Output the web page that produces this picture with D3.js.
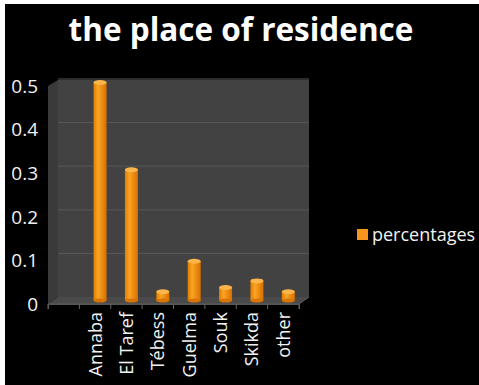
<!DOCTYPE html>
<html>
<head>
<meta charset="utf-8">
<script src="https://cdn.jsdelivr.net/npm/d3@7"></script>
<style>
  body { margin: 0; background: #fff; }
  svg { display: block; }
</style>
</head>
<body>
<div id="chart"></div>
<script>
// data
const categories = ["", "Annaba", "El Taref", "Tébess", "Guelma", "Souk", "Skikda", "other"];
const percentages = [null, 0.5, 0.3, 0.02, 0.09, 0.03, 0.045, 0.02];
const yTicks = [0, 0.1, 0.2, 0.3, 0.4, 0.5];
const seriesName = "percentages";
const title = "the place of residence";

const W = 479, H = 385;
const depthX = 10, depthY = -7;   // fake 3d depth offset

const svg = d3.select("#chart").append("svg")
    .attr("width", W)
    .attr("height", H);

const defs = svg.append("defs");
const grad = defs.append("linearGradient").attr("id", "barGrad")
    .attr("x1", "0%").attr("x2", "100%");
grad.append("stop").attr("offset", "0%").attr("stop-color", "#e07d00");
grad.append("stop").attr("offset", "35%").attr("stop-color", "#fba424");
grad.append("stop").attr("offset", "100%").attr("stop-color", "#d86f00");

// black background with a thin white margin top/left
svg.append("rect")
    .attr("x", 5).attr("y", 4)
    .attr("width", W - 5).attr("height", H - 4)
    .attr("fill", "#000");

// scales
var x = d3.scaleBand()
    .domain(categories.map((d, i) => i))
    .range([48, 299])
    .padding(0);

var y = d3.scaleLinear()
    .domain([0, 0.5])
    .range([304, 86]);

// back wall
svg.append("rect")
    .attr("x", 48 + depthX)
    .attr("y", 80)
    .attr("width", 299 - 48)
    .attr("height", y(0) + depthY - 80)
    .attr("fill", "#424242");

// little left edge of the wall
svg.append("path")
    .attr("d", `M48,${86} L${48 + depthX},80 L${48 + depthX},${y(0) + depthY} L48,${y(0)} Z`)
    .attr("fill", "#3a3a3a");

// gridlines on back wall
svg.append("g").selectAll("line")
    .data(yTicks.filter(d => d > 0))
    .enter().append("line")
    .attr("x1", 48 + depthX)
    .attr("x2", 299 + depthX)
    .attr("y1", d => y(d) + depthY)
    .attr("y2", d => y(d) + depthY)
    .attr("stroke", "#585858")
    .attr("stroke-width", 1);

// floor
svg.append("path")
    .attr("d", `M48,${y(0)} L299,${y(0)} L${299 + depthX},${y(0) + depthY} L${48 + depthX},${y(0) + depthY} Z`)
    .attr("fill", "#4a4a4a");
svg.append("path")
    .attr("d", `M48,${y(0)} L299,${y(0)} L${299 + depthX},${y(0) + depthY}`)
    .attr("fill", "none")
    .attr("stroke", "#5c5c5c");

// y axis labels
svg.append("g").selectAll("text")
    .data(yTicks)
    .enter().append("text")
    .attr("x", 38)
    .attr("y", d => y(d))
    .attr("dy", "0.36em")
    .attr("text-anchor", "end")
    .attr("fill", "#f2f2f2")
    .style("font-family", "'Open Sans', sans-serif")
    .style("font-size", "19px")
    .text(d => d === 0 ? "0" : d);

// x axis ticks + labels
const xAxis = svg.append("g")
    .attr("transform", `translate(0,${y(0)})`)
    .call(d3.axisBottom(x).tickSize(5).tickFormat(i => categories[i]));
xAxis.select(".domain").attr("stroke", "#555");
xAxis.selectAll(".tick line")
    .attr("transform", d => `translate(${-x.bandwidth() / 2},0)`)
    .attr("stroke", "#666");
xAxis.selectAll(".tick text")
    .attr("transform", "rotate(-90)")
    .attr("x", -8)
    .attr("y", 0)
    .attr("dy", "0.36em")
    .attr("text-anchor", "end")
    .attr("fill", "#f2f2f2")
    .style("font-family", "'Open Sans', sans-serif")
    .style("font-size", "18px");
// last tick at right end
xAxis.append("line")
    .attr("x1", 299).attr("x2", 299)
    .attr("y1", 0).attr("y2", 5)
    .attr("stroke", "#666");

// bars as little cylinders
const barW = 13;
const bars = svg.append("g").selectAll("g")
    .data(percentages.map((v, i) => ({i: i, v: v})).filter(d => d.v != null))
    .enter().append("g");

bars.append("rect")
    .attr("x", d => x(d.i) + x.bandwidth() / 2 + depthX / 2 - barW / 2)
    .attr("y", d => y(d.v) + depthY / 2)
    .attr("width", barW)
    .attr("height", d => y(0) - y(d.v))
    .attr("fill", "url(#barGrad)");
bars.append("ellipse")
    .attr("cx", d => x(d.i) + x.bandwidth() / 2 + depthX / 2)
    .attr("cy", d => y(0) + depthY / 2)
    .attr("rx", barW / 2)
    .attr("ry", 2)
    .attr("fill", "#d87400");
bars.append("ellipse")
    .attr("cx", d => x(d.i) + x.bandwidth() / 2 + depthX / 2)
    .attr("cy", d => y(d.v) + depthY / 2)
    .attr("rx", barW / 2)
    .attr("ry", 2.5)
    .attr("fill", "#fcb54a");

// legend
svg.append("rect")
    .attr("x", 357).attr("y", 229)
    .attr("width", 11).attr("height", 11)
    .attr("fill", "#f7941d");
svg.append("text")
    .attr("x", 372).attr("y", 235)
    .attr("dy", "0.36em")
    .attr("fill", "#f2f2f2")
    .style("font-family", "'Open Sans', sans-serif")
    .style("font-size", "18px")
    .text(seriesName);

// title
svg.append("text")
    .attr("x", 241).attr("y", 41)
    .attr("text-anchor", "middle")
    .attr("fill", "#fff")
    .style("font-family", "'Open Sans', sans-serif")
    .style("font-weight", "bold")
    .style("font-size", "31.5px")
    .text(title);
</script>
</body>
</html>
